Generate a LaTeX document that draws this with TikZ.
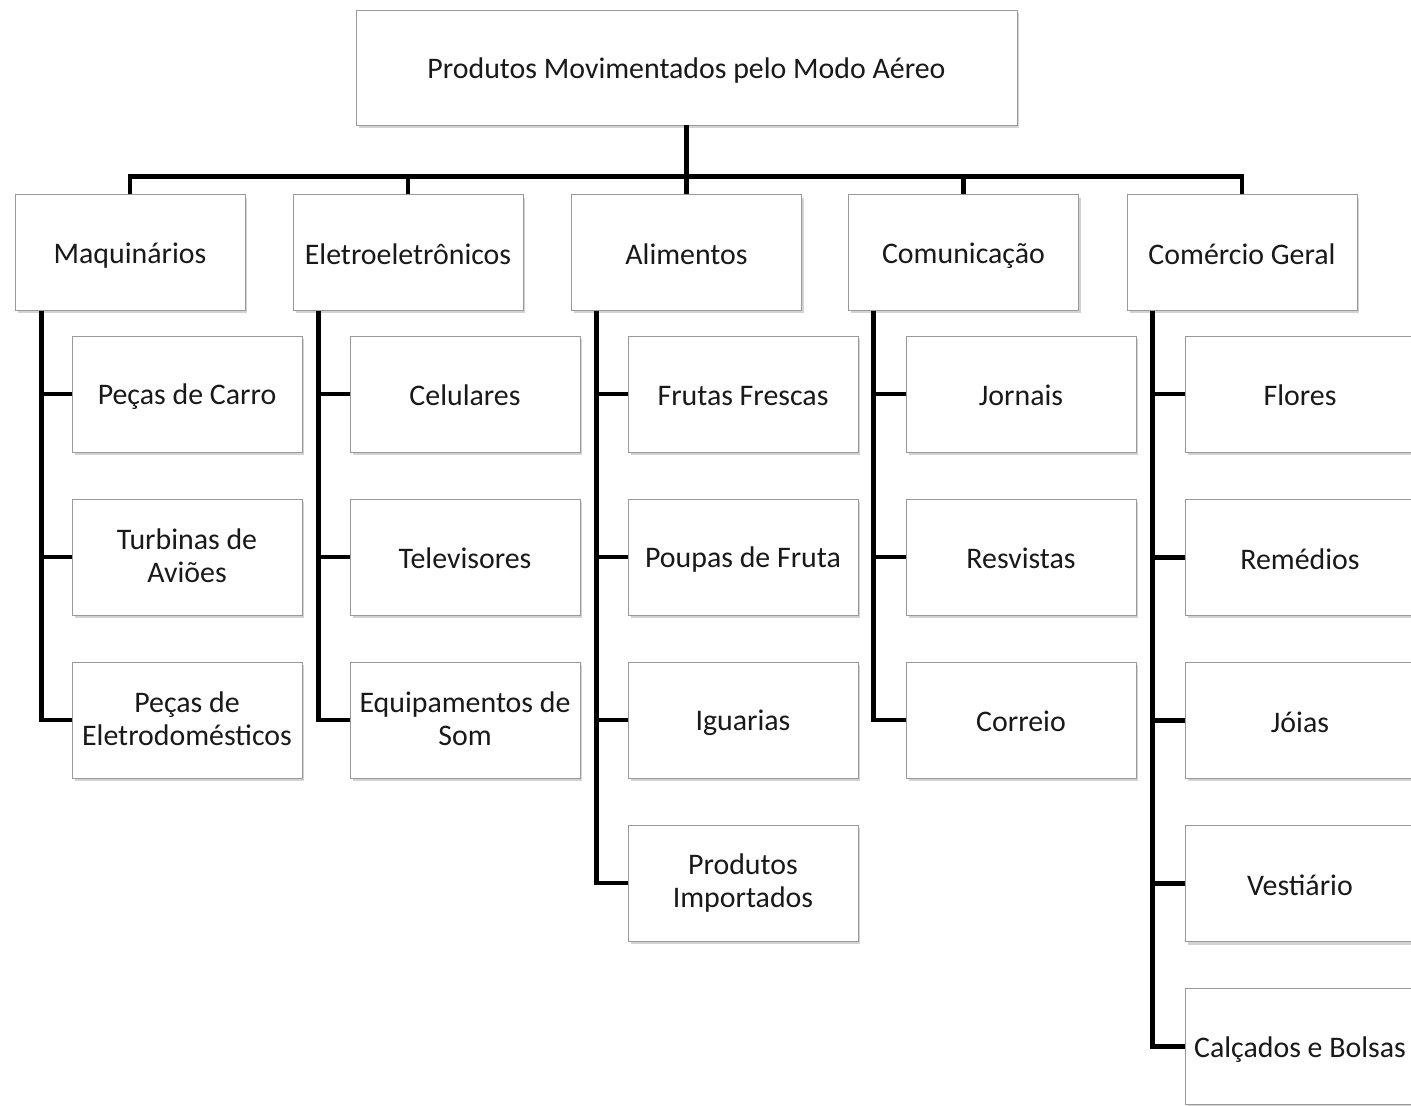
\documentclass[tikz,border=0pt]{standalone}
\usepackage{fontspec}
\setmainfont{Carlito}
\usetikzlibrary{shadows}

\newcommand{\apoiotexto}{\rule[-1.5pt]{0pt}{16.5pt}}

\tikzset{
  caixa/.style={draw=black!40, fill=white, align=center,
    minimum width=4.6cm, minimum height=2.32cm,
    font=\fontsize{17}{19}\selectfont, text=black!90,
    execute at begin node=\apoiotexto, execute at end node=\apoiotexto,
    drop shadow={shadow xshift=0.05cm, shadow yshift=-0.06cm, opacity=0.35}},
  ligacao/.style={line width=2.8pt}
}

\begin{document}
\begin{tikzpicture}[x=0.02cm, y=-0.02cm]
    \useasboundingbox (0,0) rectangle (1411,1106);

    % Raiz
    \node[caixa, minimum width=13.22cm, minimum height=2.3cm] (raiz) at (686.5,67.5)
        {Produtos Movimentados pelo Modo Aéreo};

    % Categorias
    \foreach \n/\cx/\txt in {maq/130/Maquinários, ele/408/Eletroeletrônicos,
            ali/686.5/Alimentos, com/963.5/Comunicação, ger/1242/Comércio Geral} {
        \node[caixa] (\n) at (\cx,252.5) {\txt};
        \draw[ligacao] (raiz.south) -- ++(0,51) -| (\n.north);
    }

    % Maquinários
    \foreach \i/\txt in {1/Peças de Carro, 2/{Turbinas de\\Aviões}, 3/{Peças de\\Eletrodomésticos}} {
        \node[caixa] (maq\i) at (187,{394+163*(\i-1)}) {\txt};
        \draw[ligacao] ([xshift=0.54cm]maq.south west) |- (maq\i.west);
    }

    % Eletroeletrônicos
    \foreach \i/\txt in {1/Celulares, 2/Televisores, 3/{Equipamentos de\\Som}} {
        \node[caixa] (ele\i) at (465,{394+163*(\i-1)}) {\txt};
        \draw[ligacao] ([xshift=0.52cm]ele.south west) |- (ele\i.west);
    }

    % Alimentos
    \foreach \i/\txt in {1/Frutas Frescas, 2/Poupas de Fruta, 3/Iguarias, 4/{Produtos\\Importados}} {
        \node[caixa] (ali\i) at (743,{394+163*(\i-1)}) {\txt};
        \draw[ligacao] ([xshift=0.5cm]ali.south west) |- (ali\i.west);
    }

    % Comunicação
    \foreach \i/\txt in {1/Jornais, 2/Resvistas, 3/Correio} {
        \node[caixa] (com\i) at (1021,{394+163*(\i-1)}) {\txt};
        \draw[ligacao] ([xshift=0.5cm]com.south west) |- (com\i.west);
    }

    % Comércio Geral
    \foreach \i/\txt in {1/Flores, 2/Remédios, 3/Jóias, 4/Vestiário, 5/Calçados e Bolsas} {
        \node[caixa] (ger\i) at (1300,{394+163.2*(\i-1)}) {\txt};
        \draw[ligacao] ([xshift=0.52cm]ger.south west) |- (ger\i.west);
    }

\end{tikzpicture}
\end{document}
